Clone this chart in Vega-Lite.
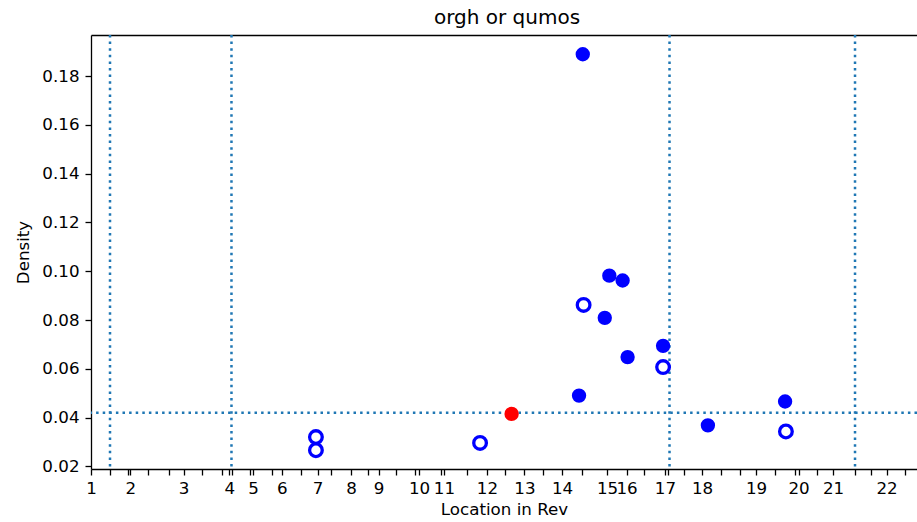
{
  "$schema": "https://vega.github.io/schema/vega-lite/v6.json",
  "width": 826,
  "height": 434,
  "autosize": {"type": "none"},
  "padding": {"left": 91, "top": 35, "right": 0, "bottom": 53},
  "background": "white",
  "config": {
    "view": {"stroke": null},
    "font": "DejaVu Sans",
    "axis": {"grid": false, "domainColor": "black", "domainWidth": 1.3, "tickColor": "black", "tickWidth": 1.3, "labelColor": "black", "titleColor": "black", "labelFont": "DejaVu Sans", "titleFont": "DejaVu Sans", "titleFontWeight": "normal"}
  },
  "title": {"text": "orgh or qumos", "font": "DejaVu Sans", "fontSize": 20, "fontWeight": "normal", "color": "black", "anchor": "middle", "frame": "group", "baseline": "alphabetic", "offset": 10, "dx": 3, "dy": 20},
  "datasets": {
    "vlines": [{"loc": 9.16}, {"loc": 67.7}, {"loc": 278.8}, {"loc": 368.2}],
    "hline": [{"density": 0.042}],
    "points": [
      {"loc": 237.0, "density": 0.189, "kind": "filled"},
      {"loc": 249.8, "density": 0.0982, "kind": "filled"},
      {"loc": 256.2, "density": 0.0962, "kind": "filled"},
      {"loc": 247.6, "density": 0.0809, "kind": "filled"},
      {"loc": 258.6, "density": 0.0648, "kind": "filled"},
      {"loc": 275.7, "density": 0.0694, "kind": "filled"},
      {"loc": 235.2, "density": 0.049, "kind": "filled"},
      {"loc": 297.3, "density": 0.0368, "kind": "filled"},
      {"loc": 334.5, "density": 0.0466, "kind": "filled"},
      {"loc": 237.4, "density": 0.0862, "kind": "open"},
      {"loc": 275.7, "density": 0.0607, "kind": "open"},
      {"loc": 334.9, "density": 0.0343, "kind": "open"},
      {"loc": 187.5, "density": 0.0296, "kind": "open"},
      {"loc": 108.4, "density": 0.032, "kind": "open"},
      {"loc": 108.4, "density": 0.0266, "kind": "open"},
      {"loc": 202.7, "density": 0.0415, "kind": "highlight"}
    ]
  },
  "resolve": {"axis": {"x": "independent"}},
  "layer": [
    {
      "data": {"name": "vlines"},
      "mark": {"type": "rule", "color": "#1f77b4", "strokeWidth": 2.5, "strokeDash": [2.5, 4.1]},
      "encoding": {
        "x": {"field": "loc", "type": "quantitative", "scale": {"domain": [0, 398.07], "nice": false, "zero": false},
          "axis": {"orient": "top", "labels": false, "ticks": false, "domain": true, "title": null}}
      }
    },
    {
      "data": {"name": "hline"},
      "mark": {"type": "rule", "color": "#1f77b4", "strokeWidth": 2.5, "strokeDash": [2.5, 4.1]},
      "encoding": {
        "y": {"field": "density", "type": "quantitative", "scale": {"domain": [0.0189, 0.1969], "nice": false, "zero": false},
          "axis": {
            "values": [0.02, 0.04, 0.06, 0.08, 0.1, 0.12, 0.14, 0.16, 0.18],
            "format": ".2f",
            "labelFontSize": 16.7,
            "labelPadding": 6,
            "tickSize": 6,
            "title": "Density",
            "titleFontSize": 16.7,
            "titlePadding": 9
          }}
      }
    },
    {
      "data": {"name": "points"},
      "transform": [{"filter": "datum.kind == 'filled'"}],
      "mark": {"type": "circle", "fill": "#0000ff", "stroke": "#0000ff", "strokeWidth": 1.7, "size": 160, "opacity": 1},
      "encoding": {
        "x": {"field": "loc", "type": "quantitative",
          "axis": {
            "orient": "bottom",
            "values": [0, 19.0, 44.6, 66.7, 78.1, 92.0, 109.2, 125.3, 138.6, 158.1, 170.1, 190.8, 208.9, 227.0, 248.7, 258.1, 276.6, 294.5, 320.5, 341.0, 357.6, 383.4,
                       9.2, 17.6, 27.5, 37.6, 53.7, 62.9, 68.0, 76.6, 87.0, 101.4, 115.9, 133.7, 147.2, 156.1, 168.7, 181.4, 199.5, 217.8, 236.6, 266.3, 278.3, 285.8, 303.6, 312.8, 329.6, 339.3, 349.9, 368.2, 376.1, 392.3],
            "labelExpr": "indexof([0, 19.0, 44.6, 66.7, 78.1, 92.0, 109.2, 125.3, 138.6, 158.1, 170.1, 190.8, 208.9, 227.0, 248.7, 258.1, 276.6, 294.5, 320.5, 341.0, 357.6, 383.4], datum.value) >= 0 ? '' + (indexof([0, 19.0, 44.6, 66.7, 78.1, 92.0, 109.2, 125.3, 138.6, 158.1, 170.1, 190.8, 208.9, 227.0, 248.7, 258.1, 276.6, 294.5, 320.5, 341.0, 357.6, 383.4], datum.value) + 1) : ''",
            "labelFlush": false,
            "labelOverlap": false,
            "labelFontSize": 16.7,
            "labelPadding": 5,
            "tickSize": 6,
            "title": "Location in Rev",
            "titleFontSize": 16.7,
            "titlePadding": 5
          }},
        "y": {"field": "density", "type": "quantitative",
          "axis": {
            "values": [0.02, 0.04, 0.06, 0.08, 0.1, 0.12, 0.14, 0.16, 0.18],
            "format": ".2f",
            "labelFontSize": 16.7,
            "labelPadding": 6,
            "tickSize": 6,
            "title": "Density",
            "titleFontSize": 16.7,
            "titlePadding": 9
          }}
      }
    },
    {
      "data": {"name": "points"},
      "transform": [{"filter": "datum.kind == 'open'"}],
      "mark": {"type": "circle", "fill": "white", "stroke": "#0000ff", "strokeWidth": 3.3, "size": 160, "opacity": 1},
      "encoding": {
        "x": {"field": "loc", "type": "quantitative", "axis": null},
        "y": {"field": "density", "type": "quantitative",
          "axis": {
            "values": [0.02, 0.04, 0.06, 0.08, 0.1, 0.12, 0.14, 0.16, 0.18],
            "format": ".2f",
            "labelFontSize": 16.7,
            "labelPadding": 6,
            "tickSize": 6,
            "title": "Density",
            "titleFontSize": 16.7,
            "titlePadding": 9
          }}
      }
    },
    {
      "data": {"name": "points"},
      "transform": [{"filter": "datum.kind == 'highlight'"}],
      "mark": {"type": "circle", "fill": "#ff0000", "stroke": "#ff0000", "strokeWidth": 1.7, "size": 160, "opacity": 1},
      "encoding": {
        "x": {"field": "loc", "type": "quantitative", "axis": null},
        "y": {"field": "density", "type": "quantitative",
          "axis": {
            "values": [0.02, 0.04, 0.06, 0.08, 0.1, 0.12, 0.14, 0.16, 0.18],
            "format": ".2f",
            "labelFontSize": 16.7,
            "labelPadding": 6,
            "tickSize": 6,
            "title": "Density",
            "titleFontSize": 16.7,
            "titlePadding": 9
          }}
      }
    }
  ]
}
